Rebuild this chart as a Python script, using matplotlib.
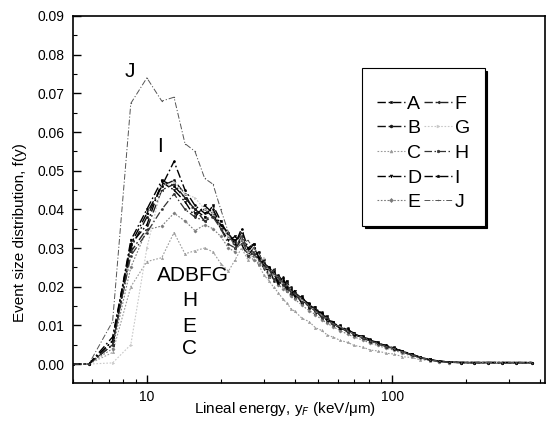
import matplotlib
matplotlib.use("Agg")
import matplotlib.pyplot as plt
from matplotlib.ticker import FixedLocator, LogLocator, NullFormatter, FormatStrFormatter

plt.rcParams['font.family'] = ['Liberation Sans', 'DejaVu Sans']

# lineal energy bins (keV/um)
x_peak = [5.0, 5.8, 7.25, 8.6, 10.0, 11.5, 12.9, 14.3, 15.7, 17.2, 18.6, 20.0, 21.5, 22.9, 24.3, 25.8]
x_tail = [27.2, 28.6, 30.0, 31.5, 32.9, 34.3, 35.8, 37.2, 38.6, 40.0, 42.9, 45.8, 48.6, 51.5, 54.4, 57.2,
          61.5, 65.8, 70.0, 75.7, 81.5, 87.2, 94.4, 101.5, 110, 120, 130, 142, 155, 170, 190, 215, 245,
          280, 320, 370]
xs = x_peak + x_tail

A = [0, 0, 0.006, 0.032, 0.040, 0.0475, 0.046, 0.043, 0.040, 0.038, 0.041, 0.037, 0.033, 0.032, 0.033, 0.029,
     0.031, 0.026, 0.027, 0.0225, 0.024, 0.022, 0.020, 0.0215, 0.019, 0.017, 0.0175, 0.0145, 0.0148, 0.0125,
     0.0123, 0.010, 0.010, 0.0085, 0.0073, 0.0073, 0.0060, 0.0057, 0.0043, 0.0043, 0.0032, 0.0026, 0.0017,
     0.0012, 0.0007, 0.0005, 0.0004, 0.0004, 0.0003, 0.0004, 0.0004, 0.0003]
B = [0, 0, 0.005, 0.030, 0.038, 0.046, 0.0475, 0.044, 0.039, 0.040, 0.038, 0.036, 0.034, 0.030, 0.032, 0.030,
     0.028, 0.029, 0.025, 0.025, 0.0215, 0.023, 0.0215, 0.019, 0.020, 0.0185, 0.016, 0.0158, 0.013, 0.0135,
     0.011, 0.011, 0.009, 0.0092, 0.0075, 0.0070, 0.0064, 0.0051, 0.0049, 0.0038, 0.0034, 0.0023, 0.0018,
     0.0010, 0.0008, 0.0005, 0.0004, 0.0003, 0.0004, 0.0004, 0.0003, 0.0004]
C = [0, 0, 0.003, 0.020, 0.0265, 0.0275, 0.034, 0.0285, 0.0293, 0.030, 0.029, 0.026, 0.024, 0.027, 0.030, 0.027,
     0.028, 0.0255, 0.023, 0.0215, 0.0198, 0.0185, 0.0168, 0.0158, 0.0143, 0.0137, 0.0118, 0.0110, 0.0094,
     0.0087, 0.0075, 0.0070, 0.0061, 0.0056, 0.0048, 0.0044, 0.0036, 0.0034, 0.0028, 0.0026, 0.0019, 0.0017,
     0.0011, 0.0009, 0.0005, 0.0004, 0.0003, 0.0003, 0.0002, 0.0003, 0.0002, 0.0003]
D = [0, 0, 0.006, 0.031, 0.036, 0.047, 0.045, 0.042, 0.038, 0.041, 0.039, 0.035, 0.032, 0.033, 0.031, 0.028,
     0.030, 0.0275, 0.0245, 0.0245, 0.023, 0.0205, 0.022, 0.0195, 0.018, 0.019, 0.0155, 0.0155, 0.0135, 0.013,
     0.0112, 0.0108, 0.0092, 0.0088, 0.0080, 0.0066, 0.0062, 0.0052, 0.0047, 0.0041, 0.0031, 0.0025, 0.0016,
     0.0012, 0.0007, 0.0005, 0.0004, 0.0004, 0.0004, 0.0003, 0.0004, 0.0004]
E = [0, 0, 0.004, 0.025, 0.0347, 0.0357, 0.039, 0.037, 0.0345, 0.036, 0.035, 0.033, 0.030, 0.029, 0.032, 0.028,
     0.027, 0.026, 0.025, 0.0225, 0.022, 0.0205, 0.0195, 0.019, 0.0175, 0.0168, 0.0152, 0.0138, 0.0128, 0.0115,
     0.0105, 0.0097, 0.0086, 0.0077, 0.0070, 0.0062, 0.0054, 0.0048, 0.0041, 0.0036, 0.0028, 0.0021, 0.0015,
     0.0010, 0.0006, 0.0004, 0.0004, 0.0003, 0.0003, 0.0003, 0.0003, 0.0003]
F = [0, 0, 0.005, 0.029, 0.035, 0.045, 0.0465, 0.043, 0.040, 0.037, 0.039, 0.036, 0.033, 0.031, 0.034, 0.029,
     0.029, 0.028, 0.0265, 0.023, 0.0245, 0.0215, 0.0205, 0.021, 0.018, 0.0185, 0.017, 0.0148, 0.0142, 0.012,
     0.0118, 0.0102, 0.0097, 0.0082, 0.0079, 0.0067, 0.0058, 0.0055, 0.0045, 0.0041, 0.0033, 0.0024, 0.0017,
     0.0011, 0.0008, 0.0005, 0.0004, 0.0004, 0.0004, 0.0004, 0.0003, 0.0004]
G = [0, 0, 0.0003, 0.005, 0.030, 0.046, 0.047, 0.044, 0.043, 0.040, 0.039, 0.036, 0.033, 0.031, 0.033, 0.029,
     0.030, 0.0265, 0.0275, 0.0235, 0.023, 0.0225, 0.020, 0.0205, 0.0195, 0.0175, 0.0168, 0.0152, 0.0135,
     0.0128, 0.0115, 0.0103, 0.0095, 0.0087, 0.0076, 0.0069, 0.0061, 0.0052, 0.0047, 0.0040, 0.0032, 0.0024,
     0.0017, 0.0011, 0.0007, 0.0005, 0.0004, 0.0004, 0.0004, 0.0004, 0.0004, 0.0004]
H = [0, 0, 0.005, 0.028, 0.034, 0.040, 0.044, 0.040, 0.038, 0.037, 0.038, 0.035, 0.031, 0.030, 0.033, 0.028,
     0.0285, 0.027, 0.0255, 0.0245, 0.022, 0.0225, 0.0205, 0.020, 0.0185, 0.018, 0.016, 0.0150, 0.0138, 0.0122,
     0.0117, 0.0103, 0.0093, 0.0084, 0.0078, 0.0067, 0.0059, 0.0053, 0.0045, 0.0039, 0.0032, 0.0023, 0.0017,
     0.0011, 0.0007, 0.0005, 0.0004, 0.0004, 0.0004, 0.0004, 0.0004, 0.0004]
I = [0, 0, 0.007, 0.031, 0.039, 0.046, 0.0524, 0.045, 0.041, 0.039, 0.040, 0.036, 0.034, 0.031, 0.035, 0.030,
     0.031, 0.0275, 0.026, 0.025, 0.0235, 0.021, 0.0225, 0.020, 0.0195, 0.0175, 0.017, 0.0155, 0.0140, 0.0132,
     0.0113, 0.0110, 0.0092, 0.0090, 0.0076, 0.0071, 0.0061, 0.0054, 0.0048, 0.0040, 0.0034, 0.0025, 0.0018,
     0.0011, 0.0008, 0.0005, 0.0004, 0.0004, 0.0004, 0.0004, 0.0004, 0.0004]
J = [0, 0, 0.011, 0.0674, 0.074, 0.068, 0.069, 0.057, 0.055, 0.048, 0.0465, 0.040, 0.034, 0.030, 0.031, 0.032,
     0.030, 0.0285, 0.026, 0.0245, 0.0235, 0.022, 0.021, 0.0205, 0.019, 0.018, 0.0168, 0.015, 0.0138, 0.0127,
     0.0115, 0.0105, 0.0095, 0.0085, 0.0077, 0.0068, 0.0060, 0.0053, 0.0046, 0.0040, 0.0032, 0.0024, 0.0017,
     0.0011, 0.0007, 0.0005, 0.0004, 0.0004, 0.0004, 0.0004, 0.0004, 0.0004]

series_names = ['A', 'B', 'C', 'D', 'E', 'F', 'G', 'H', 'I', 'J']
series_vals = [A, B, C, D, E, F, G, H, I, J]
colors = ['#000000', '#111111', '#9a9a9a', '#000000', '#7a7a7a', '#222222', '#c8c8c8', '#333333', '#000000', '#555555']
markers = ['s', 'o', '^', 'v', 'D', '<', '>', 'h', 'p', '.']
dashdot = (0, (6, 2, 1.2, 2))
dotted = (0, (1.5, 1.5))
styles = [dashdot, dashdot, dotted, dashdot, dotted, dashdot, dotted, dashdot, dashdot, dashdot]
widths = [1.0, 1.0, 0.8, 1.0, 0.8, 1.0, 0.8, 0.9, 1.0, 0.7]
msizes = [1.6, 1.6, 1.6, 1.6, 1.6, 1.6, 1.6, 1.6, 1.6, 1.0]

fig = plt.figure(figsize=(5.53, 4.22), dpi=100)
ax = fig.add_axes([0.132, 0.0924, 0.854, 0.8697])

handles = []
for name, vals, c, m, ls, lw, ms in zip(series_names, series_vals, colors, markers, styles, widths, msizes):
    h, = ax.plot(xs, vals, color=c, linestyle=ls, linewidth=lw, marker=m, markersize=ms,
                 markerfacecolor=c, markeredgecolor=c, markeredgewidth=0.4, label=name)
    handles.append(h)

ax.set_xscale('log')
ax.set_xlim(5.0, 420)
ax.set_ylim(-0.0049, 0.09)
ax.xaxis.set_major_locator(FixedLocator([10, 100]))
ax.xaxis.set_major_formatter(FormatStrFormatter('%d'))
ax.xaxis.set_minor_locator(LogLocator(base=10, subs=[2, 3, 4, 5, 6, 7, 8, 9]))
ax.xaxis.set_minor_formatter(NullFormatter())
ax.yaxis.set_major_locator(FixedLocator([0.00, 0.01, 0.02, 0.03, 0.04, 0.05, 0.06, 0.07, 0.08, 0.09]))
ax.yaxis.set_minor_locator(FixedLocator([0.005, 0.015, 0.025, 0.035, 0.045, 0.055, 0.065, 0.075, 0.085]))
ax.yaxis.set_major_formatter(FormatStrFormatter('%.2f'))
ax.tick_params(which='major', direction='in', length=6, width=1.0, labelsize=10, pad=6)
ax.tick_params(which='minor', direction='in', length=3, width=0.8)
ax.tick_params(axis='x', which='major', pad=5)
for s in ax.spines.values():
    s.set_linewidth(1.2)

ax.set_xlabel('Lineal energy, y$_F$ (keV/\u03bcm)', fontsize=11)
ax.xaxis.set_label_coords(0.449, -0.045)
ax.set_ylabel('Event size distribution, f(y)', fontsize=11)
ax.yaxis.set_label_coords(-0.098, 0.41)

ann = dict(fontsize=15, ha='center', va='center')
ax.text(8.53, 0.0756, 'J', **ann)
ax.text(11.3, 0.0563, 'I', **ann)
ax.text(15.4, 0.0229, 'ADBFG', **ann)
ax.text(14.95, 0.01645, 'H', **ann)
ax.text(14.95, 0.0098, 'E', **ann)
ax.text(14.95, 0.0041, 'C', **ann)

leg = ax.legend(handles=handles, ncol=2, loc='upper left', bbox_to_anchor=(0.612, 0.857),
                fontsize=14, frameon=True, fancybox=False, edgecolor='black', framealpha=1,
                handlelength=1.45, handletextpad=0.12, columnspacing=0.15, labelspacing=0.36,
                borderpad=0.75, borderaxespad=0, markerscale=1.3,
                shadow={'color': 'black', 'alpha': 1.0}, title=' ', title_fontsize=4)
leg.get_frame().set_linewidth(0.8)

fig.savefig('out.png', dpi=100)
